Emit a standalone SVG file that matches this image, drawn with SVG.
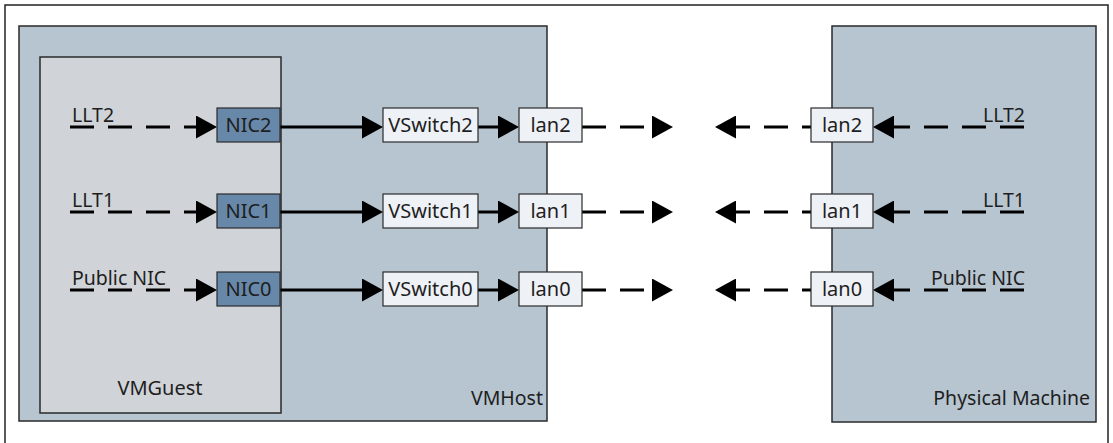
<svg xmlns="http://www.w3.org/2000/svg" width="1113" height="443" viewBox="0 0 1113 443">
<style>
text{font-family:"Noto Sans","Liberation Sans",sans-serif;font-size:19.5px;fill:#1e1e1e}
.c{text-anchor:middle;font-size:20px}
.e{text-anchor:end}
.host{fill:#b7c5d0;stroke:#2a2a2a;stroke-width:1.5}
.guest{fill:#d0d4d8;stroke:#2a2a2a;stroke-width:1.5}
.nic{fill:#6788a8;stroke:#2a2a2a;stroke-width:1.2}
.box{fill:#eef1f6;stroke:#2a2a2a;stroke-width:1.2}
.ln{stroke:#000;stroke-width:3;fill:none}
.d{stroke-dasharray:24 14}
</style>
<defs>
<marker id="ah" viewBox="0 0 21 23" refX="3" refY="11.5" markerWidth="21" markerHeight="23" markerUnits="userSpaceOnUse" orient="auto">
<path d="M0,0 L21,11.5 L0,23 Z" fill="#000"/>
</marker>
</defs>
<rect x="5" y="5" width="1103" height="445" fill="#fff" stroke="#222" stroke-width="1.5"/>
<g id="vmhost"><rect class="host" x="19" y="26" width="528" height="395"/><text class="e" x="543" y="405">VMHost</text></g>
<g id="physical"><rect class="host" x="832" y="26" width="264" height="396"/><text class="e" x="1090" y="405">Physical Machine</text></g>
<g id="vmguest"><rect class="guest" x="40" y="57" width="241" height="356"/><text class="c" x="160" y="395">VMGuest</text></g>
<g id="labels">
<text x="72" y="122">LLT2</text>
<text x="72" y="207">LLT1</text>
<text x="72" y="285">Public NIC</text>
<text class="e" x="1025" y="122">LLT2</text>
<text class="e" x="1025" y="207">LLT1</text>
<text class="e" x="1025" y="285">Public NIC</text>
</g>
<g id="connectors">
<path class="ln d" d="M70,127 H199" marker-end="url(#ah)"/>
<path class="ln" d="M280,127 H365" marker-end="url(#ah)"/>
<path class="ln" d="M478,127 H501" marker-end="url(#ah)"/>
<path class="ln d" d="M582,127 H655" marker-end="url(#ah)"/>
<path class="ln d" d="M811,127 H733" style="stroke-dashoffset:15" marker-end="url(#ah)"/>
<path class="ln d" d="M1024,127 H891" marker-end="url(#ah)"/>
<path class="ln d" d="M70,212 H199" marker-end="url(#ah)"/>
<path class="ln" d="M280,212 H365" marker-end="url(#ah)"/>
<path class="ln" d="M478,212 H501" marker-end="url(#ah)"/>
<path class="ln d" d="M582,212 H655" marker-end="url(#ah)"/>
<path class="ln d" d="M811,212 H733" style="stroke-dashoffset:15" marker-end="url(#ah)"/>
<path class="ln d" d="M1024,212 H891" marker-end="url(#ah)"/>
<path class="ln d" d="M70,290 H199" marker-end="url(#ah)"/>
<path class="ln" d="M280,290 H365" marker-end="url(#ah)"/>
<path class="ln" d="M478,290 H501" marker-end="url(#ah)"/>
<path class="ln d" d="M582,290 H655" marker-end="url(#ah)"/>
<path class="ln d" d="M811,290 H733" style="stroke-dashoffset:15" marker-end="url(#ah)"/>
<path class="ln d" d="M1024,290 H891" marker-end="url(#ah)"/>
</g>
<g id="nic2"><rect class="nic" x="217" y="108" width="63" height="34"/><text class="c" x="248.5" y="132">NIC2</text></g>
<g id="nic1"><rect class="nic" x="217" y="194" width="63" height="34"/><text class="c" x="248.5" y="218">NIC1</text></g>
<g id="nic0"><rect class="nic" x="217" y="272" width="63" height="34"/><text class="c" x="248.5" y="296">NIC0</text></g>
<g id="vswitch2"><rect class="box" x="383" y="108" width="95" height="34"/><text class="c" x="430.5" y="132">VSwitch2</text></g>
<g id="vswitch1"><rect class="box" x="383" y="194" width="95" height="34"/><text class="c" x="430.5" y="218">VSwitch1</text></g>
<g id="vswitch0"><rect class="box" x="383" y="272" width="95" height="34"/><text class="c" x="430.5" y="296">VSwitch0</text></g>
<g id="lan2-host"><rect class="box" x="519" y="108" width="63" height="34"/><text class="c" x="550.5" y="132">lan2</text></g>
<g id="lan1-host"><rect class="box" x="519" y="194" width="63" height="34"/><text class="c" x="550.5" y="218">lan1</text></g>
<g id="lan0-host"><rect class="box" x="519" y="272" width="63" height="34"/><text class="c" x="550.5" y="296">lan0</text></g>
<g id="lan2-phys"><rect class="box" x="811" y="108" width="62" height="34"/><text class="c" x="842" y="132">lan2</text></g>
<g id="lan1-phys"><rect class="box" x="811" y="194" width="62" height="34"/><text class="c" x="842" y="218">lan1</text></g>
<g id="lan0-phys"><rect class="box" x="811" y="272" width="62" height="34"/><text class="c" x="842" y="296">lan0</text></g>
</svg>
